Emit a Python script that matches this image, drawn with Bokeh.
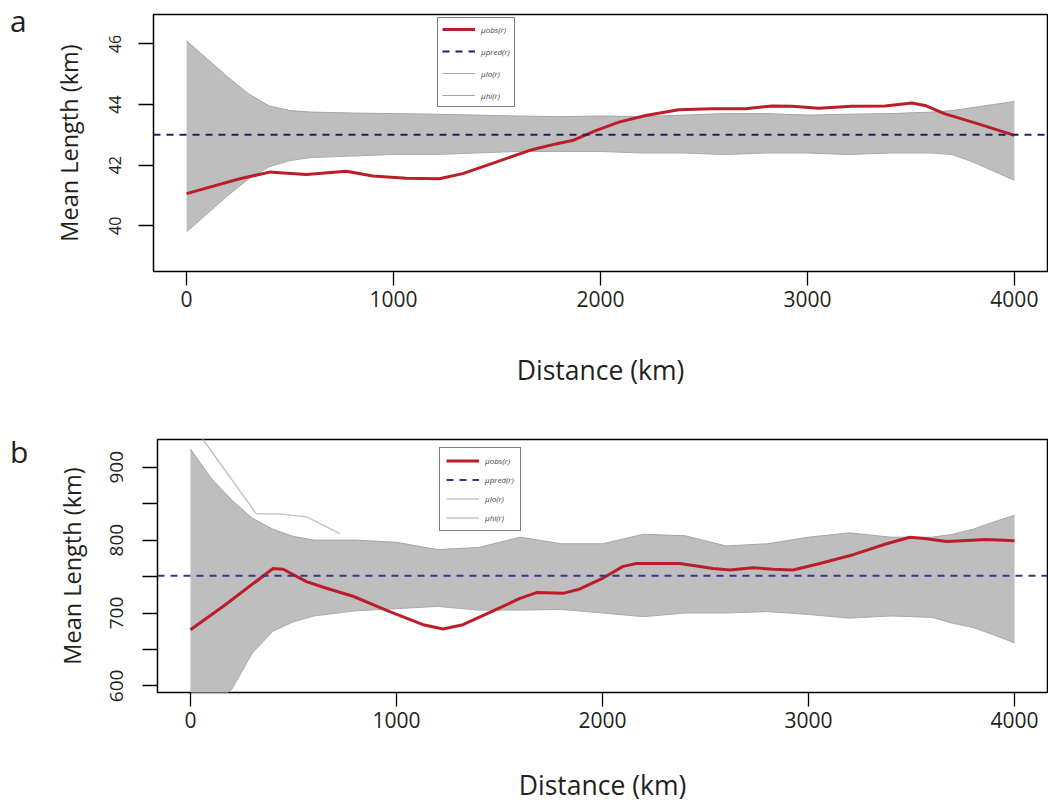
from bokeh.plotting import figure
from bokeh.layouts import column, row
from bokeh.models import Range1d, FixedTicker, Legend, LegendItem, Div
from bokeh.embed import file_html
from bokeh.resources import INLINE

# ---------------- data ----------------
X_TICKS = [0, 1000, 2000, 3000, 4000]

# panel a
A_OBS_DIST = [0, 257, 402, 450, 579, 771, 900, 1061, 1221, 1334, 1495, 1655, 1784, 1864, 1977,
              2089, 2218, 2378, 2539, 2700, 2828, 2925, 3054, 3214, 3375, 3504, 3568, 3665, 3825, 4000]
A_MU_OBS = [41.06, 41.55, 41.77, 41.75, 41.69, 41.80, 41.64, 41.57, 41.55, 41.72, 42.10, 42.48, 42.70, 42.81, 43.14,
            43.42, 43.64, 43.83, 43.86, 43.86, 43.95, 43.94, 43.88, 43.94, 43.95, 44.05, 43.97, 43.69, 43.36, 42.98]
A_MU_PRED = 43.0
ENV_DIST = [0, 100, 200, 300, 400, 500, 600, 800, 1000, 1200, 1400, 1600, 1800, 2000, 2200, 2400,
            2600, 2800, 3000, 3200, 3400, 3600, 3700, 3800, 3900, 4000]
A_MU_HI = [46.1, 45.5, 44.9, 44.35, 43.95, 43.8, 43.75, 43.72, 43.7, 43.68, 43.65, 43.62, 43.6, 43.62, 43.6, 43.65,
           43.7, 43.7, 43.65, 43.68, 43.7, 43.75, 43.8, 43.9, 44.0, 44.1]
A_MU_LO = [39.8, 40.4, 41.0, 41.55, 41.95, 42.15, 42.25, 42.3, 42.35, 42.35, 42.4, 42.45, 42.45, 42.45, 42.4, 42.4,
           42.35, 42.4, 42.4, 42.35, 42.4, 42.4, 42.35, 42.1, 41.8, 41.5]
A_Y_TICKS = [40, 42, 44, 46]

# panel b
B_OBS_DIST = [0, 158, 401, 450, 563, 660, 789, 967, 1129, 1226, 1323, 1485, 1599, 1680, 1809, 1890, 2003,
              2100, 2165, 2375, 2537, 2618, 2731, 2828, 2925, 3055, 3217, 3379, 3492, 3573, 3670, 3864, 4000]
B_MU_OBS = [677, 709, 761, 760, 743, 734, 723, 702, 684, 678, 684, 705, 720, 728, 727, 733, 748,
            764, 768, 768, 761, 759, 762, 760, 759, 768, 780, 795, 804, 802, 798, 801, 799]
B_MU_PRED = 751
B_MU_HI = [925, 885, 855, 830, 815, 805, 800, 800, 797, 787, 790, 804, 795, 795, 808, 806,
           792, 795, 804, 810, 804, 804, 808, 815, 825, 834]
B_MU_LO = [560, 575, 595, 645, 675, 688, 696, 703, 706, 709, 704, 704, 705, 700, 695, 700,
           700, 702, 698, 693, 696, 694, 686, 680, 670, 659]
B_OUT_DIST = [0, 61, 320, 433, 563, 725]
B_OUT_VAL = [962, 938, 836, 836, 832, 809]
B_Y_TICKS = [600, 650, 700, 750, 800, 850, 900]
B_Y_LABELED = [600, 700, 800, 900]

LEGEND_LABELS = ["\u03bcobs(r)", "\u03bcpred(r)", "\u03bclo(r)", "\u03bchi(r)"]
PANEL_LETTERS = ["a", "b"]

FONT = "Open Sans"
TXT = "#231f20"
GRAY = "#bebebe"
RED = "#bb1e2a"
DIV_W = 36


def panel(h, borders, yr, yticks, ylabeled, obs_d, obs_v, pred, hi, lo,
          legend_xy, legend_geom, ytick_font, pred_color, xtitle_standoff, ylab_standoff,
          ytitle_standoff, out=None):
    pad = 0.04 * (max(X_TICKS) - min(X_TICKS))
    x0, x1 = min(X_TICKS) - pad, max(X_TICKS) + pad
    p = figure(width=1048 - DIV_W, height=h, output_backend="svg", toolbar_location=None,
               x_range=Range1d(x0, x1), y_range=Range1d(*yr),
               min_border_left=borders[0] - DIV_W, min_border_right=borders[1],
               min_border_top=borders[2], min_border_bottom=borders[3])
    p.background_fill_color = "white"
    p.border_fill_color = "white"
    p.grid.visible = False
    p.outline_line_color = "black"
    p.outline_line_width = 1.5

    p.varea(x=ENV_DIST, y1=lo, y2=hi, fill_color=GRAY)
    r_lo = p.line(ENV_DIST, lo, line_color="#aaaaaa", line_width=1)
    r_hi = p.line(ENV_DIST, hi, line_color="#a5a5a5", line_width=1)
    if out is not None:
        p.line(out[0], out[1], line_color=GRAY, line_width=1.3)
    r_obs = p.line(obs_d, obs_v, line_color=RED, line_width=3, line_join="round")
    r_pred = p.line([x0, x1], [pred, pred], line_color=pred_color, line_width=2, line_dash="7 6")

    for ax in (p.xaxis[0], p.yaxis[0]):
        ax.axis_line_color = None
        ax.major_tick_line_color = "black"
        ax.major_tick_line_width = 1.3
        ax.major_tick_in = 0
        ax.minor_tick_line_color = None
        ax.major_label_text_font = FONT
        ax.major_label_text_color = TXT
        ax.axis_label_text_font = FONT
        ax.axis_label_text_font_style = "normal"
        ax.axis_label_text_color = TXT

    p.xaxis.ticker = FixedTicker(ticks=X_TICKS)
    p.xaxis.major_tick_out = 14
    p.xaxis.major_label_standoff = 5
    p.xaxis.major_label_text_font_size = "21px"
    p.xaxis.axis_label = "Distance (km)"
    p.xaxis.axis_label_text_font_size = "26.5px"
    p.xaxis.axis_label_standoff = xtitle_standoff

    p.yaxis.ticker = FixedTicker(ticks=yticks)
    p.yaxis.major_label_overrides = {t: ("" if t not in ylabeled else str(t)) for t in yticks}
    p.yaxis.major_tick_out = 15
    p.yaxis.major_label_standoff = ylab_standoff
    p.yaxis.major_label_orientation = "vertical"
    p.yaxis.major_label_text_font_size = ytick_font
    p.yaxis.axis_label = "Mean Length (km)"
    p.yaxis.axis_label_text_font_size = "23.5px"
    p.yaxis.axis_label_standoff = ytitle_standoff

    gh, sp, pd = legend_geom
    leg = Legend(items=[LegendItem(label=LEGEND_LABELS[0], renderers=[r_obs]),
                        LegendItem(label=LEGEND_LABELS[1], renderers=[r_pred]),
                        LegendItem(label=LEGEND_LABELS[2], renderers=[r_lo]),
                        LegendItem(label=LEGEND_LABELS[3], renderers=[r_hi])],
                 location=legend_xy, margin=0, padding=pd, spacing=sp,
                 glyph_width=33, glyph_height=gh, label_height=gh, label_standoff=6,
                 label_text_font_size="8px", label_text_font_style="italic",
                 label_text_font=FONT, label_text_color="#444444",
                 border_line_color="black", border_line_width=1.5,
                 background_fill_color="white", background_fill_alpha=1.0)
    p.add_layout(leg)
    return p


def letter_div(letter, h, top):
    html = (f'<div style="padding:{top}px 0 0 10px;font-family:\'Open Sans\';font-size:30px;'
            f'line-height:41px;color:{TXT}">{letter}</div>')
    return Div(text=html, width=DIV_W, height=h, margin=0)


pa = panel(420, (153, 1, 14, 149), (38.49, 46.97), A_Y_TICKS, A_Y_TICKS,
           A_OBS_DIST, A_MU_OBS, A_MU_PRED, A_MU_HI, A_MU_LO,
           (284, 164), (14, 8, 4), "16px", "#20206e", 42, 17, 22)
pb = panel(385, (157, 1, 19, 112), (591, 938), B_Y_TICKS, B_Y_LABELED,
           B_OBS_DIST, B_MU_OBS, B_MU_PRED, B_MU_HI, B_MU_LO,
           (282, 161), (13, 6, 6), "19px", "#34349a", 36, 19, 20, out=(B_OUT_DIST, B_OUT_VAL))

layout = column(row(letter_div(PANEL_LETTERS[0], 420, 0), pa, spacing=0),
                row(letter_div(PANEL_LETTERS[1], 385, 11), pb, spacing=0),
                spacing=0)
open("out.html", "w").write(file_html(layout, INLINE))
